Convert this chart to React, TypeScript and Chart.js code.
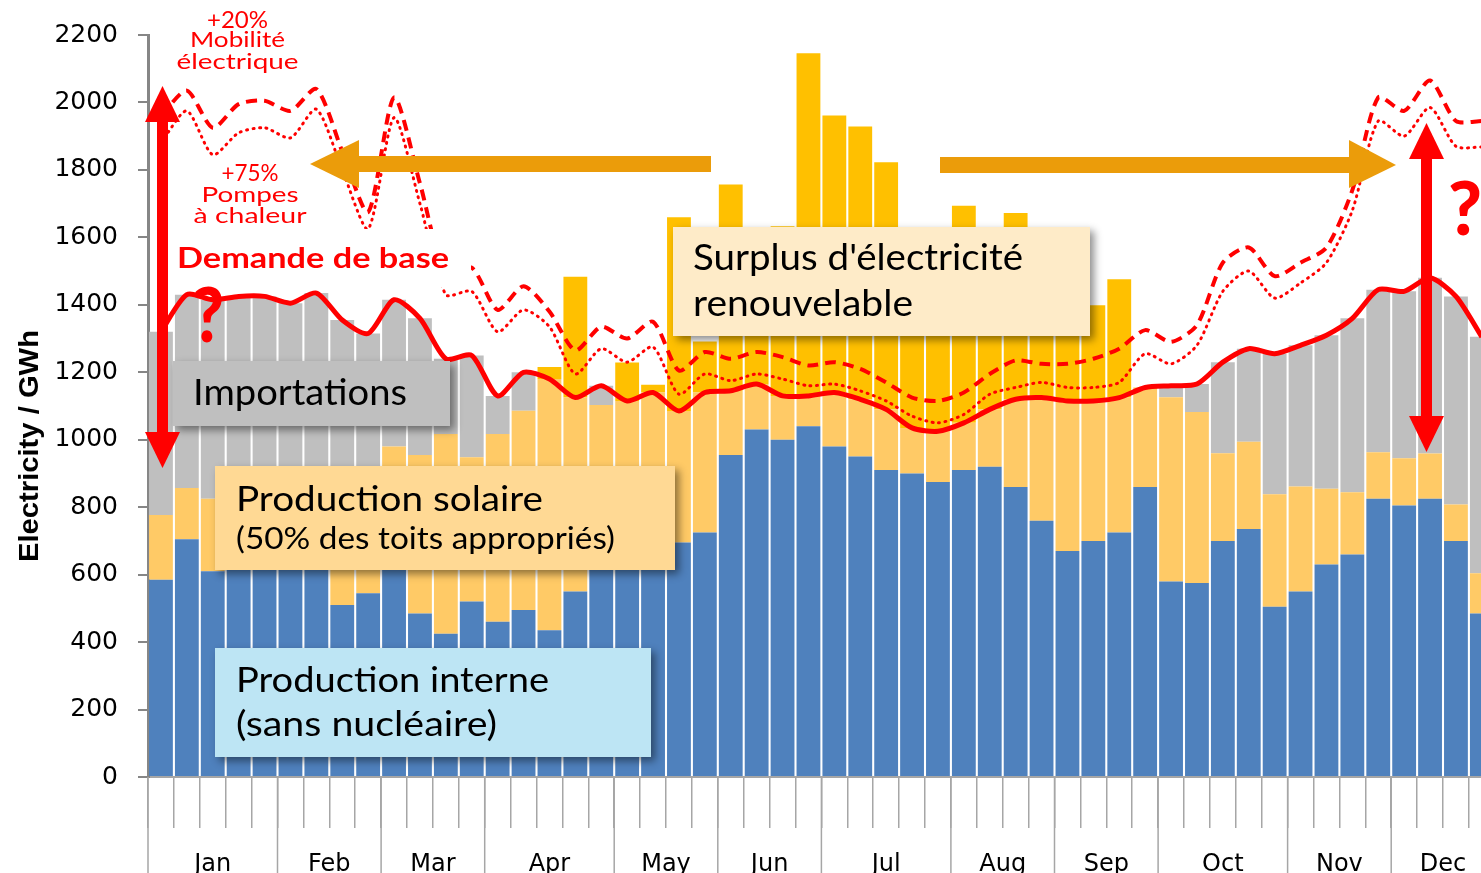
import React, { useEffect, useRef } from "react";
import { Chart, registerables } from "chart.js";

Chart.register(...registerables);

// ---------- DATA ----------
const weeks = [
  "S1","S2","S3","S4","S5","S6","S7","S8","S9","S10","S11","S12","S13",
  "S14","S15","S16","S17","S18","S19","S20","S21","S22","S23","S24","S25","S26",
  "S27","S28","S29","S30","S31","S32","S33","S34","S35","S36","S37","S38","S39",
  "S40","S41","S42","S43","S44","S45","S46","S47","S48","S49","S50","S51","S52",
];
const monthNames = ["Jan","Feb","Mar","Apr","May","Jun","Jul","Aug","Sep","Oct","Nov","Dec"];
const weeksPerMonth = [5,4,4,5,4,4,5,4,4,5,4,4];
const yTicks = [0,200,400,600,800,1000,1200,1400,1600,1800,2000,2200];

// Production interne (sans nucléaire)
const interne = [
  585,705,610,650,640,660,630,510,545,650,485,425,520,
  460,495,435,550,640,660,690,695,725,955,1030,1000,1040,
  980,950,910,900,875,910,920,860,760,670,700,725,860,
  580,575,700,735,505,550,630,660,825,805,825,700,485,
];
// Production solaire consommée
const solaire = [
  192,152,215,190,180,200,200,360,335,330,470,592,428,
  557,591,745,575,463,455,450,390,415,190,135,130,90,
  160,170,180,135,150,140,170,260,365,445,415,400,295,
  546,507,260,259,333,311,225,184,138,140,134,108,119,
];
// Importations
const importations = [
  543,573,590,585,605,545,605,485,435,435,405,223,302,
  113,114,0,0,57,0,0,0,0,0,0,0,0,
  0,0,0,0,0,0,0,0,0,0,0,0,0,
  34,83,270,276,417,419,455,516,482,495,521,617,701,
];
// Surplus d'électricité renouvelable
const surplus = [
  0,0,0,0,0,0,0,0,0,0,0,0,0,
  0,0,36,358,0,114,23,575,151,612,395,503,1016,
  821,809,733,545,475,644,470,552,395,305,284,351,0,
  0,0,0,0,0,0,0,0,0,0,0,0,0,
];
// Demande de base
const demandeBase = [
  1320,1430,1415,1425,1425,1405,1435,1355,1315,1415,1360,1240,1250,
  1130,1200,1180,1125,1160,1115,1140,1085,1140,1145,1165,1130,1130,
  1140,1120,1090,1035,1025,1050,1090,1120,1125,1115,1115,1125,1155,
  1160,1165,1230,1270,1255,1280,1310,1360,1445,1440,1480,1425,1305,
];
// +75% Pompes à chaleur
const pompesChaleur = [
  1880,1975,1845,1910,1925,1895,1980,1800,1625,1955,1700,1430,1440,
  1320,1385,1335,1195,1270,1230,1275,1135,1195,1175,1195,1180,1160,
  1165,1145,1115,1070,1050,1075,1135,1155,1170,1155,1155,1170,1255,
  1225,1280,1440,1500,1420,1465,1525,1680,1945,1900,1985,1870,1868,
];
// +20% Mobilité électrique
const mobilite = [
  1960,2035,1925,1995,2005,1975,2040,1855,1675,2015,1760,1490,1510,
  1385,1455,1380,1265,1335,1300,1350,1205,1260,1240,1260,1245,1220,
  1230,1210,1170,1125,1115,1140,1195,1235,1225,1225,1240,1270,1325,
  1290,1340,1525,1570,1485,1525,1570,1740,2015,1975,2065,1945,1945,
];

// ---------- helpers ----------
function fitText(ctx: CanvasRenderingContext2D, text: string, x: number, y: number, w: number, size: number, weight: string, family: string, color: string, align: CanvasTextAlign = "left") {
  ctx.save();
  ctx.font = `${weight} ${size}px ${family}`;
  const m = ctx.measureText(text).width;
  ctx.translate(x, y);
  ctx.scale(w / m, 1);
  ctx.textAlign = align;
  ctx.textBaseline = "alphabetic";
  ctx.fillStyle = color;
  ctx.fillText(text, 0, 0);
  ctx.restore();
}

function poly(ctx: CanvasRenderingContext2D, pts: number[][], color: string) {
  ctx.beginPath();
  ctx.moveTo(pts[0][0], pts[0][1]);
  for (let i = 1; i < pts.length; i++) ctx.lineTo(pts[i][0], pts[i][1]);
  ctx.closePath();
  ctx.fillStyle = color;
  ctx.fill();
}

const ANN = "Lato, 'Open Sans', sans-serif";

const boxes = [
  { x1: 173, y1: 361, x2: 450, y2: 426, fill: "#BFBFBF", lines: [{ t: "Importations", x: 193, y: 405, w: 214, s: 36 }] },
  { x1: 215, y1: 466, x2: 675, y2: 570, fill: "#FFD994", lines: [
    { t: "Production solaire", x: 236, y: 511, w: 307, s: 35 },
    { t: "(50% des toits appropriés)", x: 236, y: 549, w: 379, s: 31 } ] },
  { x1: 215, y1: 648, x2: 651, y2: 757, fill: "#BDE5F4", lines: [
    { t: "Production interne", x: 236, y: 692, w: 313, s: 35 },
    { t: "(sans nucléaire)", x: 236, y: 736, w: 261, s: 35 } ] },
  { x1: 673, y1: 227, x2: 1090, y2: 336, fill: "#FEEBC8", lines: [
    { t: "Surplus d'électricité", x: 693, y: 270, w: 330, s: 36 },
    { t: "renouvelable", x: 693, y: 316, w: 220, s: 36 } ] },
];

const redTexts = [
  { t: "+20%", x: 237.5, y: 28, w: 61, s: 23 },
  { t: "Mobilité", x: 237.5, y: 47, w: 95, s: 22 },
  { t: "électrique", x: 237.5, y: 69, w: 122, s: 22 },
  { t: "+75%", x: 250, y: 181, w: 57, s: 23 },
  { t: "Pompes", x: 250, y: 201.5, w: 97, s: 22 },
  { t: "à chaleur", x: 250, y: 222.5, w: 113, s: 22 },
];

const annotPlugin = {
  id: "annot",
  afterDraw(chart: any) {
    const ctx: CanvasRenderingContext2D = chart.ctx;
    const xs = chart.scales.x;
    const ca = chart.chartArea;
    ctx.save();

    // month separators and labels
    ctx.strokeStyle = "#A6A6A6";
    ctx.lineWidth = 1.5;
    let start = 0;
    ctx.font = "24px 'DejaVu Sans'";
    ctx.textAlign = "center";
    ctx.textBaseline = "alphabetic";
    ctx.fillStyle = "#000";
    for (let m = 0; m < monthNames.length; m++) {
      const n = weeksPerMonth[m];
      const xb = xs.getPixelForValue(start - 0.5);
      ctx.beginPath();
      ctx.moveTo(xb, ca.bottom);
      ctx.lineTo(xb, chart.height);
      ctx.stroke();
      const xc = xs.getPixelForValue(start + (n - 1) / 2);
      ctx.fillText(monthNames[m], xc, ca.bottom + 94);
      start += n;
    }
    const xe = xs.getPixelForValue(start - 0.5);
    ctx.beginPath();
    ctx.moveTo(xe, ca.bottom);
    ctx.lineTo(xe, chart.height);
    ctx.stroke();

    // y axis title
    ctx.save();
    ctx.translate(38, 446);
    ctx.rotate(-Math.PI / 2);
    fitText(ctx, "Electricity / GWh", 0, 0, 232, 28, "bold", "'Liberation Sans', Arial, sans-serif", "#000", "center");
    ctx.restore();

    // white background behind "Demande de base"
    ctx.fillStyle = "#FFFFFF";
    ctx.fillRect(169, 229, 302, 58);

    // boxes
    for (const b of boxes) {
      ctx.save();
      ctx.shadowColor = "rgba(0,0,0,0.45)";
      ctx.shadowBlur = 8;
      ctx.shadowOffsetX = 4;
      ctx.shadowOffsetY = 4;
      ctx.fillStyle = b.fill;
      ctx.fillRect(b.x1, b.y1, b.x2 - b.x1, b.y2 - b.y1);
      ctx.restore();
      for (const l of b.lines) fitText(ctx, l.t, l.x, l.y, l.w, l.s, "normal", ANN, "#000", "left");
    }

    // red annotation texts
    for (const r of redTexts) fitText(ctx, r.t, r.x, r.y, r.w, r.s, "normal", ANN, "#FF0000", "center");
    fitText(ctx, "Demande de base", 177, 268, 272, 29, "bold", ANN, "#FF0000", "left");

    // orange arrows
    const org = "#EB9C0A";
    ctx.fillStyle = org;
    ctx.fillRect(357, 156, 354, 16);
    poly(ctx, [[310, 164], [359, 140], [359, 188]], org);
    ctx.fillStyle = org;
    ctx.fillRect(940, 157, 410, 16);
    poly(ctx, [[1349, 140], [1396, 165], [1349, 188]], org);

    // red double arrows
    const red = "#FF0000";
    ctx.fillStyle = red;
    ctx.fillRect(157, 120, 11, 314);
    poly(ctx, [[162.5, 86], [180, 122], [145, 122]], red);
    poly(ctx, [[162.5, 468], [180, 432], [145, 432]], red);
    ctx.fillStyle = red;
    ctx.fillRect(1421, 157, 11, 261);
    poly(ctx, [[1426.5, 123], [1444, 159], [1409, 159]], red);
    poly(ctx, [[1426.5, 452], [1444, 416], [1409, 416]], red);

    // question marks
    fitText(ctx, "?", 193, 342, 31, 76, "900", ANN, red, "left");
    fitText(ctx, "?", 1448, 235, 34, 74, "900", ANN, red, "left");

    ctx.restore();
  },
};

export default function App() {
  const ref = useRef<HTMLCanvasElement | null>(null);

  useEffect(() => {
    if (!ref.current) return;
    const barCommon = { type: "bar" as const, stack: "b", order: 1, barPercentage: 0.92, categoryPercentage: 1, borderWidth: 0 };
    const chart = new Chart(ref.current, {
      type: "bar",
      data: {
        labels: weeks,
        datasets: [
          { type: "line", label: "Demande de base", data: demandeBase, borderColor: "#FF0000", borderWidth: 5, pointRadius: 0, tension: 0.25, stack: "l1", order: 0, fill: false } as any,
          { type: "line", label: "+20% Mobilité électrique", data: mobilite, borderColor: "#FF0000", borderWidth: 4, borderDash: [11, 7], pointRadius: 0, tension: 0.25, stack: "l2", order: 0, fill: false } as any,
          { type: "line", label: "+75% Pompes à chaleur", data: pompesChaleur, borderColor: "#FF0000", borderWidth: 3, borderDash: [1, 5.5], borderCapStyle: "round", pointRadius: 0, tension: 0.25, stack: "l3", order: 0, fill: false } as any,
          { ...barCommon, label: "Production interne", data: interne, backgroundColor: "#4F81BD" } as any,
          { ...barCommon, label: "Production solaire", data: solaire, backgroundColor: "#FFCA66" } as any,
          { ...barCommon, label: "Importations", data: importations, backgroundColor: "#BFBFBF" } as any,
          { ...barCommon, label: "Surplus", data: surplus, backgroundColor: "#FFC000" } as any,
        ],
      },
      options: {
        responsive: false,
        animation: false,
        devicePixelRatio: 1,
        layout: { padding: { left: 0, right: 5.2, top: 33.4, bottom: 0 } },
        plugins: { legend: { display: false }, tooltip: { enabled: false }, title: { display: false } },
        scales: {
          x: {
            stacked: true,
            offset: true,
            ticks: { display: false },
            grid: { offset: true, drawOnChartArea: false, drawTicks: true, tickLength: 51, color: "#A6A6A6", lineWidth: 1.5 },
            border: { display: true, color: "#A6A6A6", width: 2 },
            afterFit: (s: any) => { s.height = 123; },
          },
          y: {
            stacked: true,
            min: yTicks[0],
            max: yTicks[yTicks.length - 1],
            afterBuildTicks: (s: any) => { s.ticks = yTicks.map((v) => ({ value: v })); },
            ticks: { font: { family: "'DejaVu Sans'", size: 25 }, color: "#000", padding: 20, callback: (v: any) => String(v) },
            grid: { drawOnChartArea: false, drawTicks: true, tickLength: 10, color: "#868686", lineWidth: 2 },
            border: { display: true, color: "#868686", width: 3 },
            afterFit: (s: any) => { s.width = 148; },
          },
        },
      } as any,
      plugins: [annotPlugin],
    });
    return () => chart.destroy();
  }, []);

  return (
    <div style={{ position: "fixed", left: 0, top: 0, width: 1481, height: 873, overflow: "hidden", background: "#fff" }}>
      <canvas ref={ref} width={1500} height={900} style={{ display: "block" }} />
    </div>
  );
}
